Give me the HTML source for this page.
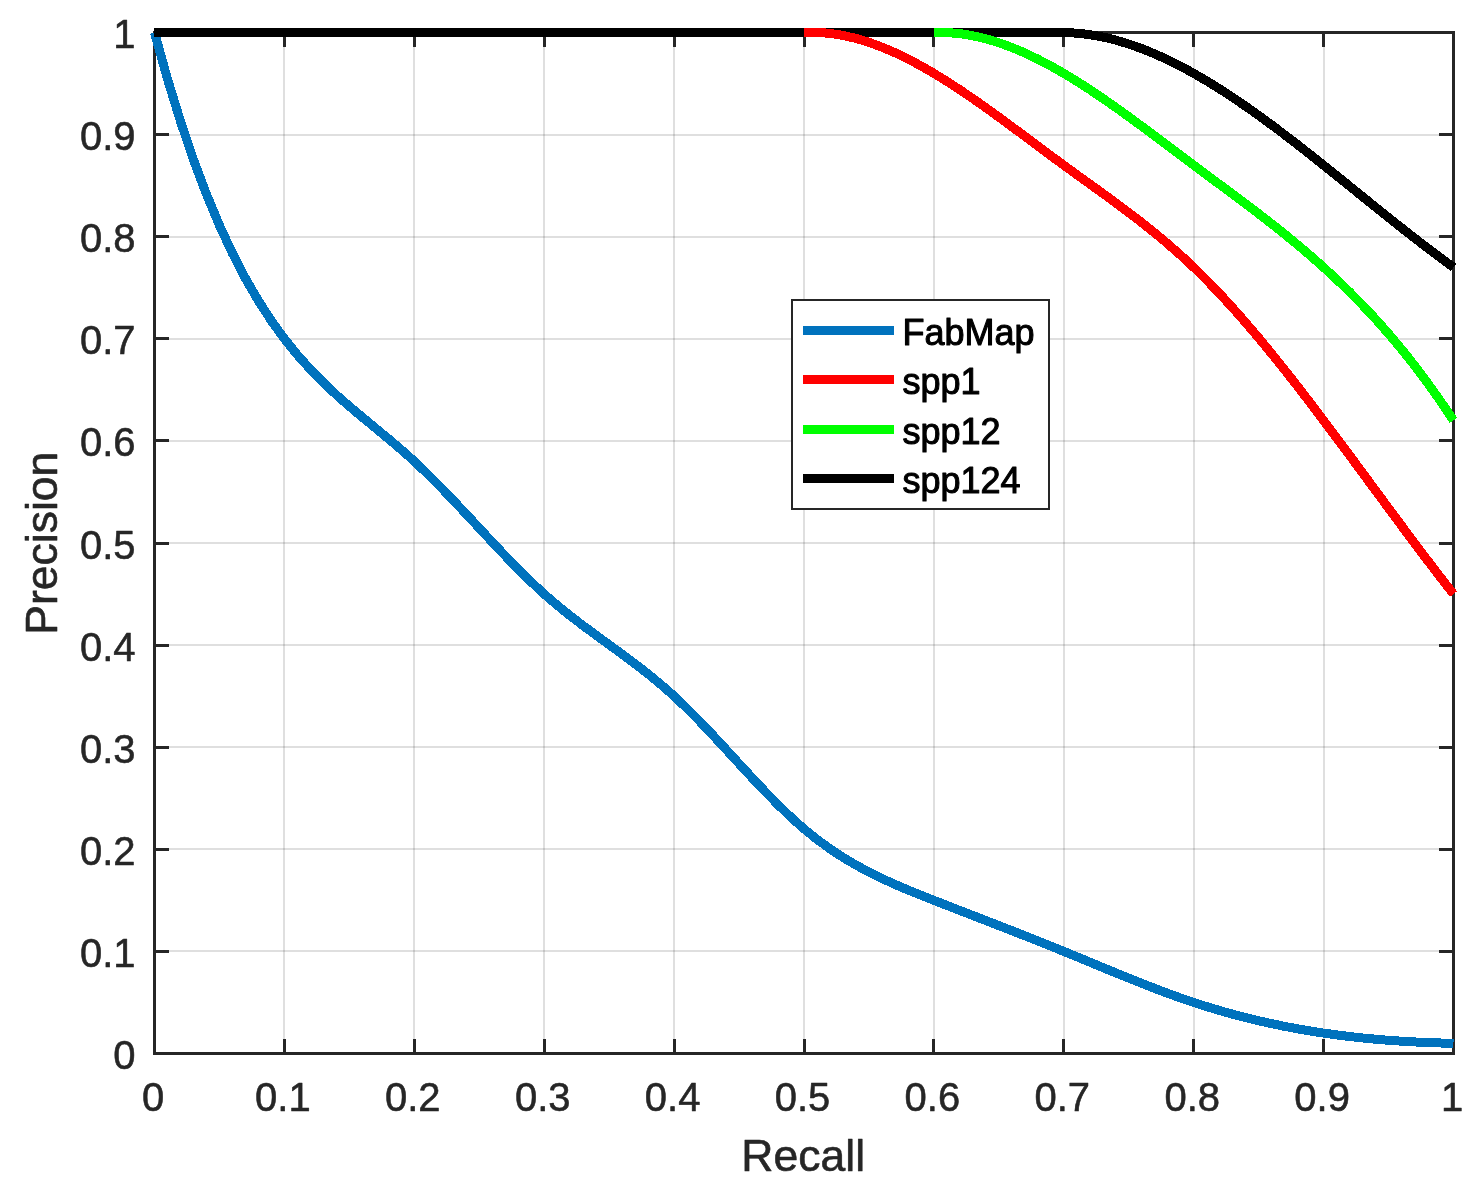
<!DOCTYPE html>
<html><head><meta charset="utf-8"><title>Precision-Recall</title>
<style>
html,body{margin:0;padding:0;background:#fff;}
body{width:1481px;height:1200px;overflow:hidden;}
svg{display:block;}
text{font-family:"Liberation Sans",Arial,Helvetica,sans-serif;}
.t{font-size:40px;fill:#262626;stroke:#262626;stroke-width:0.55px;stroke-linejoin:round;}
.l{font-size:44.5px;fill:#262626;stroke:#262626;stroke-width:0.6px;stroke-linejoin:round;}
.g{font-size:36px;fill:#000;stroke:#000;stroke-width:1.05px;stroke-linejoin:round;}
</style></head><body>
<svg width="1481" height="1200" viewBox="0 0 1481 1200">
<rect x="0" y="0" width="1481" height="1200" fill="#fff"/>

<g stroke="#262626" stroke-opacity="0.15" stroke-width="2" fill="none" shape-rendering="crispEdges">
<line x1="284" y1="34" x2="284" y2="1052"/>
<line x1="414" y1="34" x2="414" y2="1052"/>
<line x1="544" y1="34" x2="544" y2="1052"/>
<line x1="674" y1="34" x2="674" y2="1052"/>
<line x1="804" y1="34" x2="804" y2="1052"/>
<line x1="934" y1="34" x2="934" y2="1052"/>
<line x1="1064" y1="34" x2="1064" y2="1052"/>
<line x1="1194" y1="34" x2="1194" y2="1052"/>
<line x1="1324" y1="34" x2="1324" y2="1052"/>
<line x1="156" y1="951" x2="1452" y2="951"/>
<line x1="156" y1="849" x2="1452" y2="849"/>
<line x1="156" y1="747" x2="1452" y2="747"/>
<line x1="156" y1="645" x2="1452" y2="645"/>
<line x1="156" y1="543" x2="1452" y2="543"/>
<line x1="156" y1="441" x2="1452" y2="441"/>
<line x1="156" y1="339" x2="1452" y2="339"/>
<line x1="156" y1="237" x2="1452" y2="237"/>
<line x1="156" y1="135" x2="1452" y2="135"/>
</g>
<g stroke="#262626" stroke-width="3" fill="none" shape-rendering="crispEdges">
<rect x="154.5" y="32.5" width="1299.0" height="1021.0"/>
<line x1="284.5" y1="1052" x2="284.5" y2="1039"/>
<line x1="284.5" y1="34" x2="284.5" y2="47"/>
<line x1="156" y1="951.5" x2="169" y2="951.5"/>
<line x1="1452" y1="951.5" x2="1439" y2="951.5"/>
<line x1="414.5" y1="1052" x2="414.5" y2="1039"/>
<line x1="414.5" y1="34" x2="414.5" y2="47"/>
<line x1="156" y1="849.5" x2="169" y2="849.5"/>
<line x1="1452" y1="849.5" x2="1439" y2="849.5"/>
<line x1="544.5" y1="1052" x2="544.5" y2="1039"/>
<line x1="544.5" y1="34" x2="544.5" y2="47"/>
<line x1="156" y1="747.5" x2="169" y2="747.5"/>
<line x1="1452" y1="747.5" x2="1439" y2="747.5"/>
<line x1="674.5" y1="1052" x2="674.5" y2="1039"/>
<line x1="674.5" y1="34" x2="674.5" y2="47"/>
<line x1="156" y1="645.5" x2="169" y2="645.5"/>
<line x1="1452" y1="645.5" x2="1439" y2="645.5"/>
<line x1="804.5" y1="1052" x2="804.5" y2="1039"/>
<line x1="804.5" y1="34" x2="804.5" y2="47"/>
<line x1="156" y1="543.5" x2="169" y2="543.5"/>
<line x1="1452" y1="543.5" x2="1439" y2="543.5"/>
<line x1="933.5" y1="1052" x2="933.5" y2="1039"/>
<line x1="933.5" y1="34" x2="933.5" y2="47"/>
<line x1="156" y1="440.5" x2="169" y2="440.5"/>
<line x1="1452" y1="440.5" x2="1439" y2="440.5"/>
<line x1="1063.5" y1="1052" x2="1063.5" y2="1039"/>
<line x1="1063.5" y1="34" x2="1063.5" y2="47"/>
<line x1="156" y1="338.5" x2="169" y2="338.5"/>
<line x1="1452" y1="338.5" x2="1439" y2="338.5"/>
<line x1="1193.5" y1="1052" x2="1193.5" y2="1039"/>
<line x1="1193.5" y1="34" x2="1193.5" y2="47"/>
<line x1="156" y1="236.5" x2="169" y2="236.5"/>
<line x1="1452" y1="236.5" x2="1439" y2="236.5"/>
<line x1="1323.5" y1="1052" x2="1323.5" y2="1039"/>
<line x1="1323.5" y1="34" x2="1323.5" y2="47"/>
<line x1="156" y1="134.5" x2="169" y2="134.5"/>
<line x1="1452" y1="134.5" x2="1439" y2="134.5"/>
</g>
<g fill="none" stroke-width="9" stroke-linejoin="miter" stroke-linecap="butt" shape-rendering="crispEdges">
<path d="M154.50,32.50 L167.49,79.03 L180.48,121.32 L193.47,159.63 L206.46,194.22 L219.45,225.37 L232.44,253.34 L245.43,278.40 L258.42,300.81 L271.41,320.86 L284.40,338.80 L297.39,354.90 L310.38,369.43 L323.37,382.66 L336.36,394.86 L349.35,406.29 L362.34,417.22 L375.33,427.92 L388.32,438.66 L401.31,449.70 L414.30,461.32 L427.29,473.70 L440.28,486.75 L453.27,500.29 L466.26,514.15 L479.25,528.14 L492.24,542.10 L505.23,555.84 L518.22,569.20 L531.21,581.99 L544.20,594.05 L557.19,605.25 L570.18,615.73 L583.17,625.67 L596.16,635.27 L609.15,644.71 L622.14,654.18 L635.13,663.87 L648.12,673.97 L661.11,684.67 L674.10,696.15 L687.09,708.54 L700.08,721.70 L713.07,735.41 L726.06,749.45 L739.05,763.62 L752.04,777.70 L765.03,791.48 L778.02,804.75 L791.01,817.28 L804.00,828.88 L816.99,839.38 L829.98,848.83 L842.97,857.36 L855.96,865.06 L868.95,872.06 L881.94,878.46 L894.93,884.38 L907.92,889.93 L920.91,895.21 L933.90,900.35 L946.89,905.43 L959.88,910.49 L972.87,915.53 L985.86,920.57 L998.85,925.62 L1011.84,930.69 L1024.83,935.79 L1037.82,940.94 L1050.81,946.13 L1063.80,951.40 L1076.79,956.74 L1089.78,962.11 L1102.77,967.50 L1115.76,972.86 L1128.75,978.15 L1141.74,983.35 L1154.73,988.41 L1167.72,993.31 L1180.71,998.00 L1193.70,1002.45 L1206.69,1006.63 L1219.68,1010.55 L1232.67,1014.20 L1245.66,1017.60 L1258.65,1020.76 L1271.64,1023.67 L1284.63,1026.36 L1297.62,1028.81 L1310.61,1031.05 L1323.60,1033.08 L1336.59,1034.90 L1349.58,1036.53 L1362.57,1037.97 L1375.56,1039.22 L1388.55,1040.30 L1401.54,1041.20 L1414.53,1041.95 L1427.52,1042.54 L1440.51,1042.99 L1453.50,1043.29" stroke="#0072bd"/>
<path d="M154,32.5 L1063.80,32.50 L1076.79,33.12 L1089.78,34.62 L1102.77,36.96 L1115.76,40.10 L1128.75,43.99 L1141.74,48.59 L1154.73,53.87 L1167.72,59.78 L1180.71,66.28 L1193.70,73.34 L1206.69,80.91 L1219.68,88.94 L1232.67,97.40 L1245.66,106.26 L1258.65,115.46 L1271.64,124.96 L1284.63,134.73 L1297.62,144.73 L1310.61,154.91 L1323.60,165.23 L1336.59,175.65 L1349.58,186.14 L1362.57,196.65 L1375.56,207.13 L1388.55,217.56 L1401.54,227.88 L1414.53,238.06 L1427.52,248.05 L1440.51,257.82 L1453.50,267.33" stroke="#000000"/>
<path d="M804.00,32.50 L816.99,32.37 L829.98,33.35 L842.97,35.38 L855.96,38.40 L868.95,42.33 L881.94,47.10 L894.93,52.66 L907.92,58.93 L920.91,65.85 L933.90,73.34 L946.89,81.34 L959.88,89.79 L972.87,98.61 L985.86,107.74 L998.85,117.12 L1011.84,126.66 L1024.83,136.31 L1037.82,146.00 L1050.81,155.66 L1063.80,165.23 L1076.79,174.66 L1089.78,184.02 L1102.77,193.39 L1115.76,202.88 L1128.75,212.58 L1141.74,222.57 L1154.73,232.95 L1167.72,243.81 L1180.71,255.24 L1193.70,267.33 L1206.69,280.15 L1219.68,293.68 L1232.67,307.85 L1245.66,322.61 L1258.65,337.91 L1271.64,353.68 L1284.63,369.88 L1297.62,386.45 L1310.61,403.34 L1323.60,420.48 L1336.59,437.83 L1349.58,455.32 L1362.57,472.92 L1375.56,490.55 L1388.55,508.16 L1401.54,525.70 L1414.53,543.12 L1427.52,560.35 L1440.51,577.35 L1453.50,594.05" stroke="#ff0000"/>
<path d="M933.90,32.50 L946.89,32.54 L959.88,33.64 L972.87,35.75 L985.86,38.79 L998.85,42.71 L1011.84,47.45 L1024.83,52.94 L1037.82,59.13 L1050.81,65.95 L1063.80,73.34 L1076.79,81.24 L1089.78,89.59 L1102.77,98.33 L1115.76,107.40 L1128.75,116.73 L1141.74,126.27 L1154.73,135.95 L1167.72,145.71 L1180.71,155.49 L1193.70,165.23 L1206.69,174.89 L1219.68,184.51 L1232.67,194.14 L1245.66,203.86 L1258.65,213.73 L1271.64,223.79 L1284.63,234.13 L1297.62,244.79 L1310.61,255.83 L1323.60,267.33 L1336.59,279.34 L1349.58,291.92 L1362.57,305.13 L1375.56,319.03 L1388.55,333.69 L1401.54,349.17 L1414.53,365.53 L1427.52,382.83 L1440.51,401.12 L1453.50,420.48" stroke="#00ff00"/>
</g>
<g class="t" text-anchor="middle">
<text x="153.00" y="1110.5">0</text>
<text x="282.90" y="1110.5">0.1</text>
<text x="412.80" y="1110.5">0.2</text>
<text x="542.70" y="1110.5">0.3</text>
<text x="672.60" y="1110.5">0.4</text>
<text x="802.50" y="1110.5">0.5</text>
<text x="932.40" y="1110.5">0.6</text>
<text x="1062.30" y="1110.5">0.7</text>
<text x="1192.20" y="1110.5">0.8</text>
<text x="1322.10" y="1110.5">0.9</text>
<text x="1452.00" y="1110.5">1</text>
</g>
<g class="t" text-anchor="end">
<text x="135.5" y="1069">0</text>
<text x="135.5" y="967">0.1</text>
<text x="135.5" y="865">0.2</text>
<text x="135.5" y="763">0.3</text>
<text x="135.5" y="661">0.4</text>
<text x="135.5" y="559">0.5</text>
<text x="135.5" y="456">0.6</text>
<text x="135.5" y="354">0.7</text>
<text x="135.5" y="252">0.8</text>
<text x="135.5" y="150">0.9</text>
<text x="135.5" y="48">1</text>
</g>
<text class="l" text-anchor="middle" x="803.2" y="1170.8">Recall</text>
<text class="l" text-anchor="middle" transform="translate(57.4,543.2) rotate(-90)">Precision</text>
<rect x="792" y="300" width="257" height="209" fill="#fff" stroke="#262626" stroke-width="2" shape-rendering="crispEdges"/>
<line x1="803" y1="330.5" x2="894" y2="330.5" stroke="#0072bd" stroke-width="9" shape-rendering="crispEdges"/>
<text class="g" x="902.5" y="344.7">FabMap</text>
<line x1="803" y1="379.5" x2="894" y2="379.5" stroke="#ff0000" stroke-width="9" shape-rendering="crispEdges"/>
<text class="g" x="902.5" y="393.7">spp1</text>
<line x1="803" y1="429.5" x2="894" y2="429.5" stroke="#00ff00" stroke-width="9" shape-rendering="crispEdges"/>
<text class="g" x="902.5" y="443.7">spp12</text>
<line x1="803" y1="478.5" x2="894" y2="478.5" stroke="#000000" stroke-width="9" shape-rendering="crispEdges"/>
<text class="g" x="902.5" y="492.7">spp124</text>
</svg></body></html>
